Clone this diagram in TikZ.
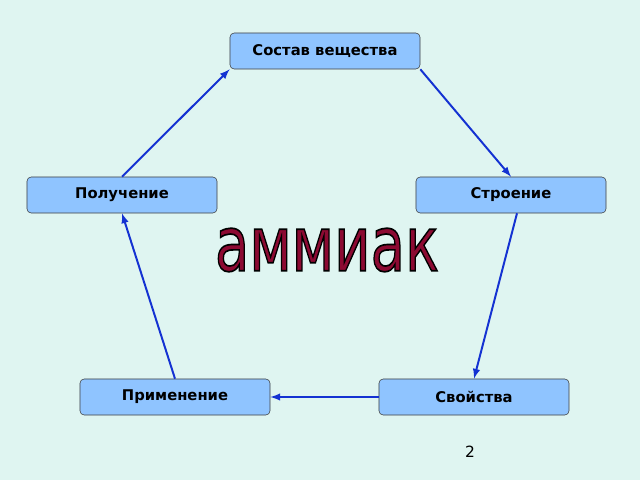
\documentclass[tikz,border=0pt]{standalone}
\usepackage{fontspec}
\setmainfont{DejaVu Sans}
\usetikzlibrary{positioning}
\definecolor{bgmint}{RGB}{223,245,241}
\definecolor{boxblue}{RGB}{143,196,255}
\definecolor{arrowblue}{RGB}{20,50,210}
\definecolor{wine}{RGB}{140,10,50}
\newcommand{\outlinedword}[1]{\special{pdf:code q 2 Tr 1.2 w 0 0 0 RG}#1\special{pdf:code Q}}
\begin{document}
\begin{tikzpicture}[x=0.025cm, y=-0.025cm]
        \tikzstyle{topic}=[draw=black!75, fill=boxblue, rounded corners=3pt, minimum width=4.75cm, minimum height=0.9cm, font=\fontsize{10.5}{12}\selectfont\bfseries];
        \tikzstyle{link}=[-latex, line width=1.4pt, arrowblue];

        \fill[bgmint] (0, 0) rectangle (640, 480);

        \node[topic] (sostav) at (325, 51) {Состав вещества};
        \node[topic] (poluch) at (122, 195) {Получение};
        \node[topic] (stroen) at (511, 195) {Строение};
        \node[topic] (primen) at (175, 397) {Применение};
        \node[topic] (svoist) at (474, 397) {Свойства};

        \node[text=wine, font=\fontsize{54}{54}\selectfont, xscale=0.74] (title) at (327, 250) {\outlinedword{аммиак}};
        \node[font=\fontsize{11}{12}\selectfont] (page) at (470, 452) {2};

        \draw[link] (poluch.north) -- (sostav.south west);
        \draw[link] (sostav.south east) -- (stroen.north);
        \draw[link] ([xshift=0.15cm]stroen.south) -- (svoist.north);
        \draw[link] (svoist.west) -- (primen.east);
        \draw[link] (primen.north) -- (poluch.south);
\end{tikzpicture}
\end{document}
